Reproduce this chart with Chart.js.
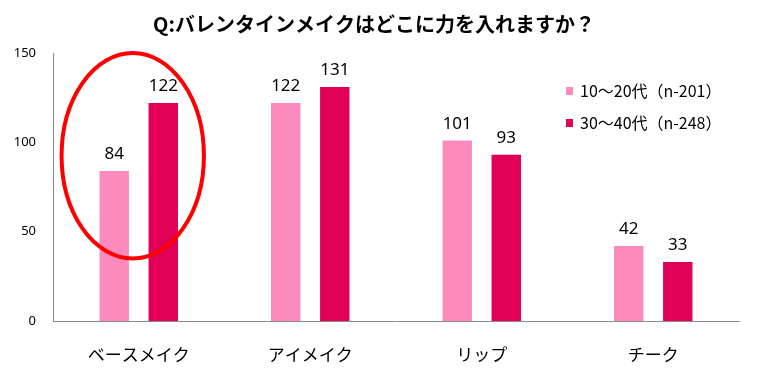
<!DOCTYPE html>
<html>
<head>
<meta charset="utf-8">
<script src="https://cdn.jsdelivr.net/npm/chart.js@4"></script>
<style>
  html, body { margin: 0; padding: 0; background: #fff; }
  #wrap { width: 780px; height: 378px; }
</style>
</head>
<body>
<div id="wrap"><canvas id="chart" width="780" height="378"></canvas></div>
<script>
const titleText = 'Q:バレンタインメイクはどこに力を入れますか？';
const categories = ['ベースメイク', 'アイメイク', 'リップ', 'チーク'];
const seriesLabels = ['10～20代（n-201）', '30～40代（n-248）'];
const youngValues = [84, 122, 101, 42];
const olderValues = [122, 131, 93, 33];
const yTicks = [0, 50, 100, 150];

// the red ring round the first group, in axis units
const ringXFrom = -0.45, ringXTo = 0.38;
const ringYFrom = 35, ringYTo = 150;

const font = '"Noto Sans CJK JP", "Noto Sans", sans-serif';

const valueLabels = {
    id: 'value_labels',
    afterDatasetsDraw: (chart) => {
        const ctx = chart.ctx;
        ctx.save();
        ctx.fillStyle = '#000';
        ctx.font = '17px "Noto Sans", sans-serif';
        ctx.textAlign = 'center';
        ctx.textBaseline = 'bottom';
        chart.data.datasets.forEach((ds, i) => {
            chart.getDatasetMeta(i).data.forEach((bar, j) => {
                ctx.fillText(ds.data[j], bar.x, bar.y - 8);
            });
        });
        ctx.restore();
    }
};

const ring = {
    id: 'ring',
    afterDatasetsDraw: (chart) => {
        const x = chart.scales.x, y = chart.scales.y;
        const x1 = x.getPixelForValue(ringXFrom), x2 = x.getPixelForValue(ringXTo);
        const y1 = y.getPixelForValue(ringYTo), y2 = y.getPixelForValue(ringYFrom);
        const ctx = chart.ctx;
        ctx.save();
        ctx.strokeStyle = '#f00';
        ctx.lineWidth = 4;
        ctx.beginPath();
        ctx.ellipse((x1 + x2) / 2, (y1 + y2) / 2, (x2 - x1) / 2, (y2 - y1) / 2, 0, 0, Math.PI * 2);
        ctx.stroke();
        ctx.restore();
    }
};

const legendBox = {
    id: 'legend_box',
    afterDraw: (chart) => {
        const ctx = chart.ctx;
        ctx.save();
        ctx.font = '16px ' + font;
        ctx.textBaseline = 'middle';
        chart.data.datasets.forEach((ds, i) => {
            const top = 91 + i * 32;
            ctx.fillStyle = ds.backgroundColor;
            ctx.fillRect(566, top - 4, 7, 8);
            ctx.fillStyle = '#000';
            ctx.fillText(ds.label, 580, top);
        });
        ctx.restore();
    }
};

const config = {
    type: 'bar',
    data: {
        labels: categories,
        datasets: [
            {
                label: seriesLabels[0],
                data: youngValues,
                backgroundColor: 'rgb(250, 139, 188)'
            },
            {
                label: seriesLabels[1],
                data: olderValues,
                backgroundColor: 'rgb(224, 0, 88)'
            }
        ]
    },
    options: {
        responsive: false,
        animation: false,
        categoryPercentage: 0.572,
        barPercentage: 0.6,
        layout: {
            padding: { left: 9, right: 41, top: 0, bottom: 0 }
        },
        plugins: {
            legend: { display: false },
            tooltip: { enabled: false },
            title: {
                display: true,
                text: titleText,
                color: '#000',
                font: { family: font, size: 20, weight: 'bold', lineHeight: 1.2 },
                padding: { top: 12, bottom: 17 }
            }
        },
        scales: {
            x: {
                grid: { display: false },
                border: { display: true, color: '#8c8c8c', width: 1 },
                ticks: {
                    color: '#000',
                    font: { family: font, size: 17 },
                    padding: 15
                },
                afterFit: (scale) => { scale.height = 57; }
            },
            y: {
                min: 0,
                max: 150,
                afterBuildTicks: (scale) => {
                    scale.ticks = yTicks.map(v => ({ value: v }));
                },
                grid: { display: false },
                border: { display: true, color: '#8c8c8c', width: 1 },
                ticks: {
                    color: '#000',
                    font: { family: '"Noto Sans", sans-serif', size: 13 },
                    padding: 9
                },
                afterFit: (scale) => { scale.width = 44; }
            }
        }
    },
    plugins: [valueLabels, ring, legendBox]
};

let chart = new Chart(document.getElementById('chart'), config);
</script>
</body>
</html>
